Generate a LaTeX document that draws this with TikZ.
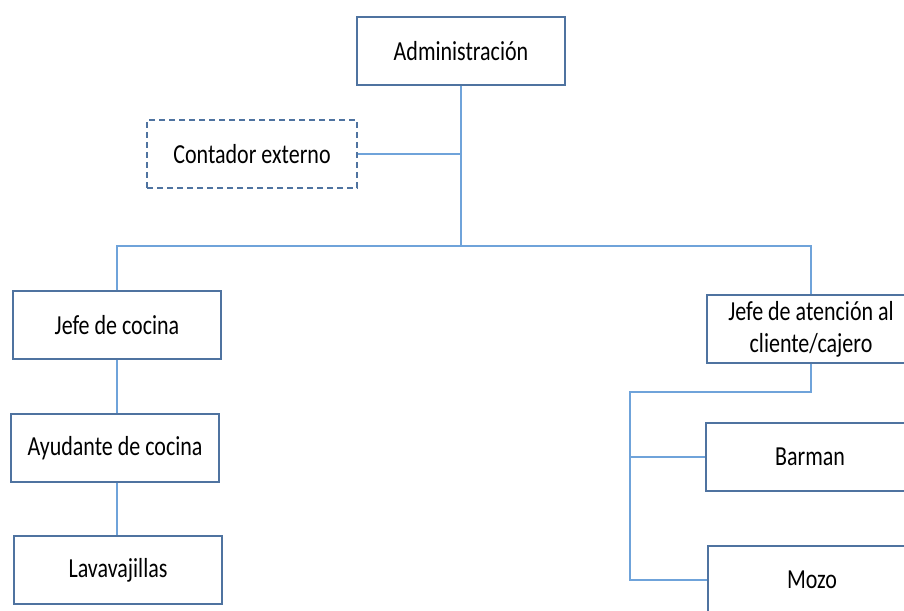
\documentclass[tikz,border=0pt]{standalone}
\usepackage{fontspec}
\setmainfont{Carlito}[FakeStretch=0.8]
\usetikzlibrary{positioning}
\definecolor{boxline}{HTML}{4F73A0}
\definecolor{linkline}{HTML}{6FA3DA}
\tikzset{
	puesto/.style={rectangle, draw=boxline, line width=1.4pt, minimum width=208pt, minimum height=68pt, align=center, font=\fontsize{27.5}{32}\selectfont},
	externo/.style={puesto, dashed, dash pattern=on 6pt off 4pt},
	enlace/.style={draw=linkline, line width=1.4pt}
}
\begin{document}
\begin{tikzpicture}[x=1pt, y=-1pt]
			\useasboundingbox (0, 0) rectangle (904, 610);
			\clip (0, 0) rectangle (904, 610);
			\node at (461, 51) [puesto] (admin) {Administración};
			\node at (252, 154) [externo, minimum width=210pt] (contador) {Contador externo};
			\node at (117, 325) [puesto] (jcocina) {Jefe de cocina};
			\node at (115, 448) [puesto] (ayudante) {Ayudante de cocina};
			\node at (118, 570) [puesto] (lavavajillas) {Lavavajillas};
			\node at (811, 329) [puesto] (jatencion) {Jefe de atención al\\ cliente/cajero};
			\node at (810, 457) [puesto] (barman) {Barman};
			\node at (812, 580) [puesto] (mozo) {Mozo};
			\coordinate (tronco) at (461, 246);
			\coordinate (ramal) at (630, 392);
			\draw [enlace] (admin.south) -- (tronco);
			\draw [enlace] (contador.east) -- (admin.south |- contador.east);
			\draw [enlace] (jcocina.north) |- (tronco) -| (jatencion.north);
			\draw [enlace] (jcocina.south) -- (jcocina.south |- ayudante.north);
			\draw [enlace] (ayudante.south -| jcocina.south) -- (lavavajillas.north -| jcocina.south);
			\draw [enlace] (jatencion.south) |- (ramal) |- (mozo.west);
			\draw [enlace] (ramal |- barman.west) -- (barman.west);
		\end{tikzpicture}
\end{document}
